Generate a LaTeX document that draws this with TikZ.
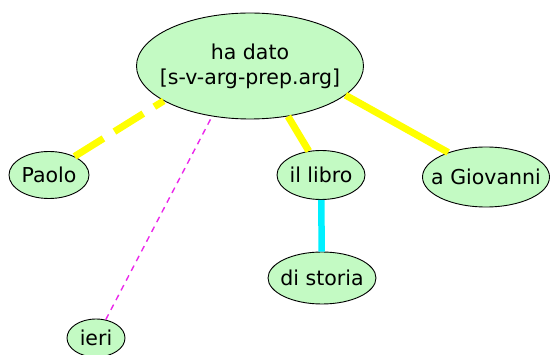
\documentclass[tikz,border=0pt]{standalone}
\usepackage{fontspec}
\setmainfont{DejaVu Sans}
\usepackage{tikz}
\usetikzlibrary{shapes.geometric}

\definecolor{nodegreen}{RGB}{195,250,195}
\definecolor{argyellow}{RGB}{255,255,0}
\definecolor{modcyan}{RGB}{0,240,255}
\definecolor{advmagenta}{RGB}{235,40,235}

\begin{document}
\begin{tikzpicture}[x=1pt,y=-1pt,
  word/.style={shape=ellipse,draw,line width=0.9pt,fill=nodegreen,inner sep=-40pt,
    align=center,font=\fontsize{20.5}{25}\selectfont},
  arg/.style={line width=7pt,draw=argyellow},
  subj/.style={arg,dash pattern=on 34pt off 13pt},
  mod/.style={line width=6.5pt,draw=modcyan},
  adv/.style={line width=1.4pt,draw=advmagenta,dash pattern=on 6pt off 5pt}]
%[inner sep=1mm]
\useasboundingbox (0,0) rectangle (551,355);
\path (250,66) node (hadato) [word,minimum width=227pt,minimum height=106pt] {ha dato\\{}[s-v-arg-prep.arg]};
\path (49,175) node (paolo) [word,minimum width=80pt,minimum height=47pt] {Paolo};
\path (96,338) node (ieri) [word,minimum width=58pt,minimum height=38pt] {ieri};
\path (321,175) node (libro) [word,minimum width=88pt,minimum height=49pt] {il libro};
\path (322,278) node (storia) [word,minimum width=108pt,minimum height=52pt] {di storia};
\path (486,177) node (giovanni) [word,minimum width=127pt,minimum height=60pt] {a Giovanni};

\draw [subj] (paolo.36) to (hadato.202);
\draw [adv] (ieri.62) to (hadato.233);
\draw [arg] (libro.117) to (hadato.307);
\draw [arg] (giovanni.147) to (hadato.343);
\draw [mod] (libro) to (storia);
\end{tikzpicture}
\end{document}
